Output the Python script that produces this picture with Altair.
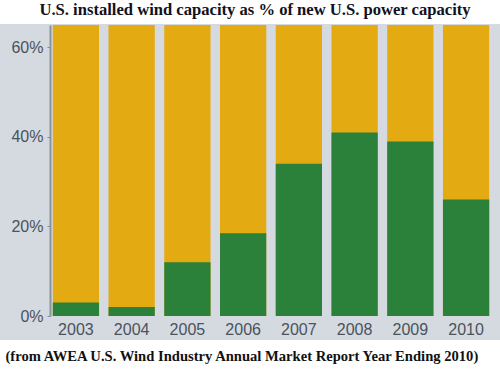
import altair as alt
import pandas as pd

years = ["2003", "2004", "2005", "2006", "2007", "2008", "2009", "2010"]
wind_pct = [3, 2, 12, 18.5, 34, 41, 39, 26]
total_pct = [100, 100, 100, 100, 100, 100, 100, 100]

df = pd.DataFrame({"year": years, "wind": wind_pct, "total": total_pct})

x_enc = alt.X(
    "year:N",
    sort=years,
    scale=alt.Scale(paddingInner=0.17, paddingOuter=0.05),
    axis=alt.Axis(
        title="(from AWEA U.S. Wind Industry Annual Market Report Year Ending 2010)",
        titleFont="Liberation Serif",
        titleFontSize=14.6,
        titleFontWeight="bold",
        titleColor="#111111",
        titleX=-45,
        titleY=44,
        titleAlign="left",
        titleBaseline="alphabetic",
        labelAngle=0,
        labelFont="Liberation Sans",
        labelFontSize=16,
        labelColor="#4a525c",
        labelPadding=5,
        ticks=False,
        domain=False,
        zindex=1,
    ),
)

y_scale = alt.Scale(domain=[0, 65], nice=False, zero=True)
y_axis = alt.Axis(
    title=None,
    values=[0, 20, 40, 60],
    labelExpr="datum.value + '%'",
    labelFont="Liberation Sans",
    labelFontSize=16,
    labelColor="#4a525c",
    labelPadding=4,
    tickSize=3,
    tickColor="#7f8b98",
    domainColor="#8794a2",
    domainWidth=2,
    grid=False,
    zindex=1,
)

bg = alt.Chart(pd.DataFrame({"a": [0]})).mark_rect(color="#d5dae0").encode(
    x=alt.value(-50), x2=alt.value(450), y=alt.value(-1), y2=alt.value(315)
)

orange = alt.Chart(df).mark_bar(color="#e4aa12", clip=True).encode(
    x=x_enc,
    y=alt.Y("total:Q", scale=y_scale, axis=y_axis),
)

green = alt.Chart(df).mark_bar(color="#2b8139").encode(
    x=x_enc,
    y=alt.Y("wind:Q", scale=y_scale, axis=y_axis),
)

chart = alt.layer(bg, orange, green).properties(
    width=442,
    height=291,
    padding={"left": 50, "top": 25, "right": 8, "bottom": 59},
    autosize=alt.AutoSizeParams(type="none"),
    background="#ffffff",
    title=alt.TitleParams(
        "U.S. installed wind capacity as % of new U.S. power capacity",
        font="Liberation Serif",
        fontSize=16.6,
        fontWeight="bold",
        color="#111122",
        anchor="middle",
        dx=-16,
        offset=5,
    ),
).configure_view(stroke=None)

chart.save("out.html", embed_options={"renderer": "svg", "actions": False})
